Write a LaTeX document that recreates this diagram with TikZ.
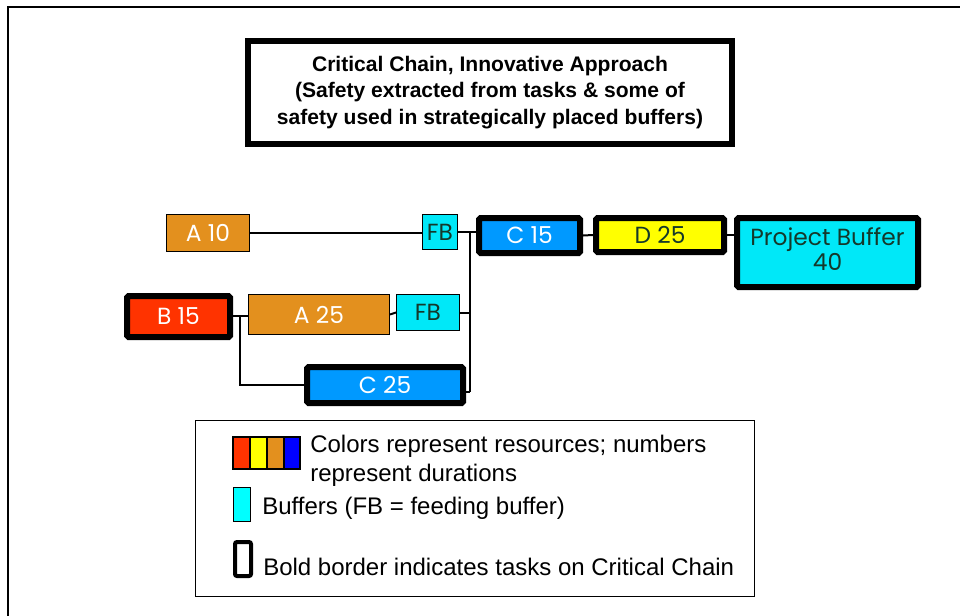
\documentclass[tikz,border=0pt]{standalone}
\usepackage{fontspec}
\setmainfont{Liberation Sans}
\newfontfamily\taskfont{Poppins}
\def\px{0.75pt}
\definecolor{resorange}{HTML}{E3901E}
\definecolor{bufcyan}{HTML}{00E8F8}
\definecolor{resblue}{HTML}{0099FF}
\definecolor{resred}{HTML}{FF3300}
\definecolor{resyellow}{HTML}{FFFF00}
\definecolor{darkink}{HTML}{14382A}
\definecolor{legblue}{HTML}{0000FF}
\definecolor{legcyan}{HTML}{00FFFF}
\tikzset{
  task/.style={draw=black, line width=1*\px, inner sep=0pt, font=\taskfont\fontsize{17.5}{20}\selectfont, text=white},
  chaintask/.style={task, line width=6*\px, rounded corners=1.5*\px},
  buffer/.style={task, fill=bufcyan, text=darkink},
  link/.style={draw=black, line width=2*\px},
  legendtext/.style={inner sep=0pt, font=\fontsize{18}{21.75}\selectfont},
}
\begin{document}
\begin{tikzpicture}[x=0.75pt,y=-0.75pt]
\useasboundingbox (0,0) rectangle (960,615);
% page frame (open on the right and bottom)
\draw[line width=2*\px] (8,616) -- (8,7) -- (961,7);

% title
\node[draw, line width=6*\px, minimum width=484*\px, minimum height=103*\px, inner sep=0pt,
      align=center, font=\bfseries\fontsize{15.8}{19.8}\selectfont] (title) at (490,92.5)
  {Critical Chain, Innovative Approach\\(Safety extracted from tasks \& some of\\safety used in strategically placed buffers)};

% tasks and buffers
\node[task, fill=resorange, minimum width=83*\px, minimum height=37*\px] (a10) at (208,233) {A 10};
\node[buffer, minimum width=35*\px, minimum height=35*\px] (fb1) at (440,232) {FB};
\node[chaintask, fill=resblue, minimum width=101*\px, minimum height=35*\px] (c15) at (529.5,235.5) {C 15};
\node[chaintask, fill=resyellow, text=darkink, minimum width=128*\px, minimum height=34*\px] (d25) at (660,235) {D 25};
\node[chaintask, fill=bufcyan, text=darkink, minimum width=181*\px, minimum height=69*\px] (pb) at (827.5,252.5) {};
\node[align=center, inner sep=0pt, text=darkink, font=\taskfont\fontsize{17.5}{18.8}\selectfont]
  (pblabel) at (827.5,249.5) {Project Buffer\\40};
\node[chaintask, fill=resred, minimum width=103*\px, minimum height=41*\px] (b15) at (178.5,316.5) {B 15};
\node[task, fill=resorange, minimum width=141*\px, minimum height=40*\px] (a25) at (319,314.5) {A 25};
\node[buffer, minimum width=63*\px, minimum height=36*\px] (fb2) at (428,312.5) {FB};
\node[chaintask, fill=resblue, minimum width=156*\px, minimum height=36*\px] (c25) at (385,385) {C 25};

% junction points
\coordinate (bustop) at (470,233);
\coordinate (busbot) at (470,392);
\coordinate (split) at (240,315.5);

% connectors
\draw[link] (a10.east) -- (fb1.west |- a10.east);
\draw[link] (fb1.east) -- (c15.west |- fb1.east);
\draw[link] (bustop) -- (busbot);
\draw[link] (fb2.east) -- (bustop |- fb2.east);
\draw[link] (c25.east |- busbot) -- (busbot);
\draw[link] (b15.east |- split) -- (a25.west |- split);
\draw[link] (split) |- (c25.west);
\draw[link] (a25.east) -- (fb2.west);
\draw[link] (c15.east) -- (d25.west);
\draw[link] (d25.east) -- (pb.west |- d25.east);

% legend
\node[draw, line width=1.5*\px, minimum width=559*\px, minimum height=176*\px, inner sep=0pt] (legend) at (475,508.5) {};
\draw[line width=2*\px, fill=resred] (233,437) rectangle (250,469);
\draw[line width=2*\px, fill=resyellow] (250,437) rectangle (267,469);
\draw[line width=2*\px, fill=resorange] (267,437) rectangle (284,469);
\draw[line width=2*\px, fill=legblue] (284,437) rectangle (300,469);
\draw[line width=1*\px, fill=legcyan] (233,487) rectangle (250,521);
\draw[line width=4*\px, rounded corners=2*\px, fill=white] (235,542) rectangle (251,576);
\node[legendtext, anchor=north west, align=left] (legres) at (310,435)
  {Colors represent resources; numbers\\represent durations};
\node[legendtext, anchor=base west] (legbuf) at (262,514)
  {Buffers (FB = feeding buffer)};
\node[legendtext, anchor=base west] (legbold) at (263,575)
  {Bold border indicates tasks on Critical Chain};
\end{tikzpicture}
\end{document}
